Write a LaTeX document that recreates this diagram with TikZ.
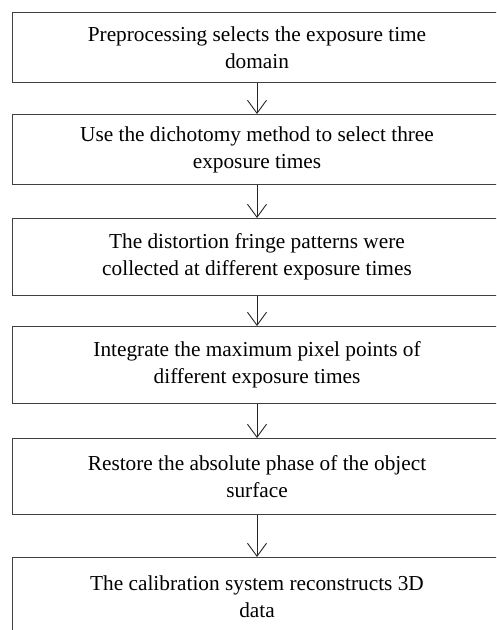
\documentclass[tikz,border=0pt]{standalone}
\usepackage{fontspec}
\setmainfont{Liberation Serif}
\usetikzlibrary{arrows.meta}

\begin{document}
\begin{tikzpicture}[x=1pt, y=-1pt, >={Straight Barb[length=13pt,width=19pt]},
    stepbox/.style={draw=black!75, line width=1.1pt, minimum width=489pt, inner sep=0pt,
        align=center, anchor=north, font=\fontsize{21.3}{27}\selectfont},
    flow/.style={->, draw=black!85, line width=0.9pt}]
    % Cadre (la figure est coupee a droite et en bas)
    \useasboundingbox (0,0) rectangle (496,630);
    \clip (0,0) rectangle (496,630);
    
    % Etapes
    \node[stepbox, minimum height=70pt] (pre) at (257,12) {Preprocessing selects the exposure time\\domain};
    \node[stepbox, minimum height=70pt] (dicho) at (257,114) {Use the dichotomy method to select three\\exposure times};
    \node[stepbox, minimum height=77pt] (fringe) at (257,218) {The distortion fringe patterns were\\collected at different exposure times};
    \node[stepbox, minimum height=77pt] (merge) at (257,326) {Integrate the maximum pixel points of\\different exposure times};
    \node[stepbox, minimum height=76pt] (phase) at (257,438) {Restore the absolute phase of the object\\surface};
    \node[stepbox, minimum height=78pt] (calib) at (257,557) {The calibration system reconstructs 3D\\data};
    
    % Fleches
    \draw[flow] (pre) -- (dicho);
    \draw[flow] (dicho) -- (fringe);
    \draw[flow] (fringe) -- (merge);
    \draw[flow] (merge) -- (phase);
    \draw[flow] (phase) -- (calib);
    
\end{tikzpicture}
\end{document}
